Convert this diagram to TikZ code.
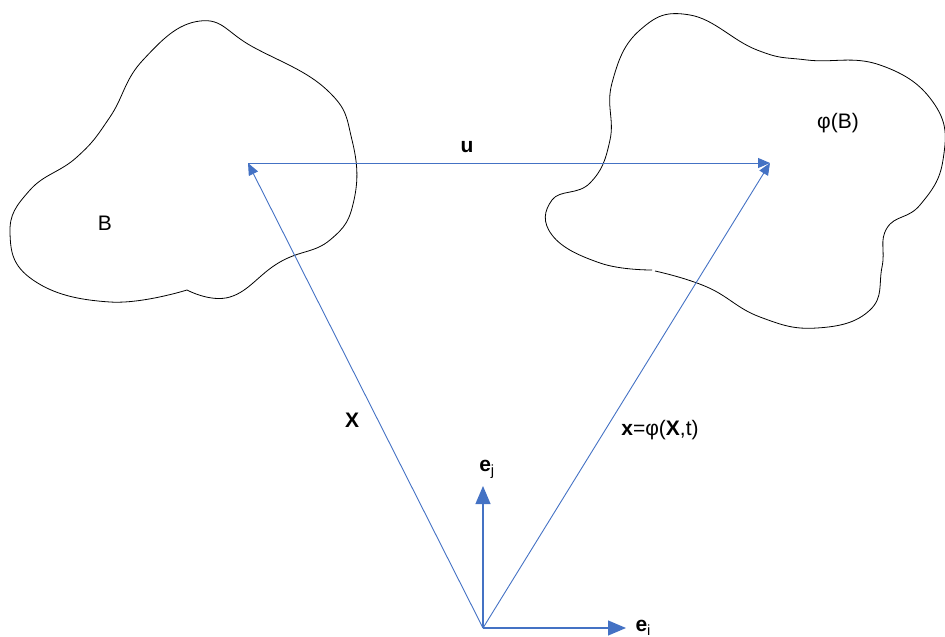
\documentclass[tikz,border=0pt]{standalone}
\usepackage{fontspec}
\setmainfont{Liberation Sans}
\usetikzlibrary{arrows.meta, positioning}
\usepackage{xcolor}
\definecolor{vblue}{RGB}{68,114,196}

\begin{document}
\begin{tikzpicture}[x=1pt,y=-1pt,
  vec/.style={-{Triangle[length=12pt,width=10pt]},vblue,line width=0.9pt},
  basevec/.style={-{Triangle[length=18pt,width=15pt]},vblue,line width=1.1pt},
  body/.style={black,line width=0.8pt},
  lbl/.style={font=\fontsize{21}{24}\selectfont}
]
  \useasboundingbox (0,0) rectangle (945,637);

  % reference body and deformed body
  \draw[body] plot[smooth,tension=0.75] coordinates {(187,290) (110,302) (33,280) (10,233) (30,190) (77,157) (110,117) (143,60) (200,21) (253,47) (327,90) (352,140) (354,200) (330,240) (280,262) (230,297) (187,290)};
  \draw[body] plot[smooth,tension=0.75] coordinates {(655,271) (707,287) (760,317) (817,328) (870,310) (882,267) (887,228) (920,205) (943,160) (935,105) (880,65) (807,60) (757,50) (690,15) (640,30) (612,83) (610,140) (590,183) (552,200) (552,235) (600,263) (652,270)};
  \node[lbl] (B) at (105,223) {B};
  \node[lbl] (phiB) at (838,123) {φ(B)};

  % points
  \coordinate (O) at (483,628);
  \coordinate (P) at (248,163);
  \coordinate (Q) at (770,163);
  \coordinate (Ei) at (626,628);
  \coordinate (Ej) at (483,486);

  \draw[vec] (O) -- (P);
  \draw[vec] (P) -- (Q);
  \draw[vec] (O) -- (Q);
  \draw[basevec] (O) -- (Ei);
  \draw[basevec] (O) -- (Ej);

  \node[lbl] (X) at (352,420) {\textbf{X}};
  \node[lbl] (u) at (467,147) {\textbf{u}};
  \node[lbl] (x) at (660,430) {\textbf{x}=φ(\textbf{X},t)};
  \node[lbl,anchor=south] (ej) at (487,482) {\textbf{e}\textsubscript{j}};
  \node[lbl,anchor=west] (ei) at (632,628) {\textbf{e}\textsubscript{i}};
\end{tikzpicture}
\end{document}
